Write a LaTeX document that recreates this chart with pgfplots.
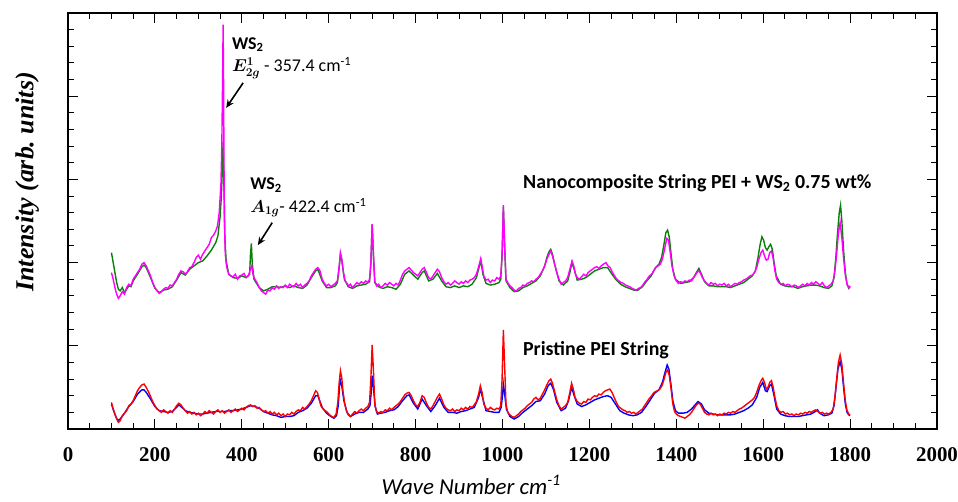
\documentclass[border=0pt]{standalone}
\usepackage{pgfplots}
\pgfplotsset{compat=1.18}
\usetikzlibrary{arrows.meta}
\usepackage{fontspec}
\usepackage{bm}
\setmainfont{Carlito}
\newfontfamily\tnr{Liberation Serif}
\definecolor{cgreen}{RGB}{10,128,10}
\definecolor{cmag}{RGB}{255,0,255}
\definecolor{cblue}{RGB}{0,0,255}
\definecolor{cred}{RGB}{255,0,0}
\begin{document}
\begin{tikzpicture}
\path[use as bounding box] (0,0) rectangle (958bp,502bp);
\begin{axis}[
  at={(68bp,73bp)}, anchor=south west,
  scale only axis, width=869bp, height=416bp,
  xmin=0, xmax=2000, ymin=0, ymax=5,
  xtick={0,200,...,2000}, minor x tick num=3,
  ytick={0,1,...,5}, minor y tick num=4, yticklabels={},
  major tick length=10bp, minor tick length=6bp,
  every tick/.style={black, line width=1bp},
  axis line style={line width=1.3bp},
  /pgf/number format/.cd, 1000 sep={}, assume math mode=true, /pgfplots/.cd,
  xticklabel style={font=\tnr\bfseries\fontsize{21}{21}\selectfont, anchor=center, yshift=-26bp},
  xlabel={\itshape Wave Number cm\textsuperscript{-1}},
  xlabel style={font=\fontsize{23}{24}\selectfont, at={(axis description cs:0.464,-0.134)}, anchor=center},
  ylabel={Intensity (arb.\ units)},
  ylabel style={font=\tnr\bfseries\itshape\fontsize{26}{27}\selectfont, at={(axis description cs:-0.047,0.594)}, anchor=center, rotate=0},
  clip=false,
]
% green (nanocomposite, behind)
\addplot[cgreen, line width=1.4bp] coordinates {
(100,2.12)(104,2.00)(108,1.88)(112,1.76)(116,1.68)(120,1.66)(125,1.70)(130,1.64)(135,1.68)(140,1.72)(145,1.71)(150,1.78)(160,1.86)(170,1.95)(175,1.97)(180,1.94)(190,1.82)(200,1.69)(210,1.64)(220,1.67)(230,1.68)(240,1.71)(250,1.79)(260,1.88)(270,1.85)(280,1.92)(290,1.96)(300,2.00)(310,2.02)(320,2.08)(330,2.15)(340,2.24)(345,2.32)(350,2.55)(353,2.80)(355,3.10)(357,3.45)(359,2.90)(361,2.30)(364,2.02)(370,1.86)(380,1.82)(390,1.81)(400,1.84)(410,1.82)(418,1.86)(420,2.10)(422,2.23)(424,2.00)(428,1.80)(440,1.70)(450,1.66)(460,1.68)(470,1.71)(480,1.71)(490,1.70)(500,1.72)(510,1.70)(520,1.72)(530,1.70)(540,1.69)(550,1.73)(560,1.82)(570,1.90)(575,1.92)(585,1.78)(595,1.70)(605,1.70)(615,1.72)(620,1.76)(624,1.93)(627,2.10)(630,2.03)(636,1.80)(645,1.71)(655,1.69)(665,1.72)(675,1.73)(685,1.74)(694,1.77)(697,1.98)(700,2.46)(703,2.08)(706,1.76)(715,1.71)(725,1.69)(735,1.71)(745,1.70)(755,1.68)(765,1.74)(775,1.86)(785,1.90)(795,1.85)(805,1.80)(815,1.88)(820,1.90)(830,1.78)(840,1.80)(850,1.87)(860,1.78)(870,1.71)(880,1.70)(890,1.72)(900,1.70)(910,1.72)(920,1.71)(930,1.74)(940,1.82)(945,1.92)(950,2.02)(955,1.86)(962,1.75)(972,1.73)(982,1.74)(992,1.76)(996,1.80)(999,2.08)(1002,2.67)(1005,2.18)(1008,1.78)(1017,1.70)(1027,1.65)(1037,1.66)(1047,1.70)(1057,1.72)(1067,1.75)(1077,1.78)(1087,1.84)(1097,1.96)(1102,2.06)(1107,2.13)(1111,2.16)(1115,2.10)(1120,1.98)(1130,1.78)(1140,1.73)(1150,1.78)(1155,1.88)(1160,2.00)(1165,1.92)(1172,1.79)(1182,1.80)(1192,1.82)(1202,1.86)(1212,1.90)(1222,1.92)(1232,1.94)(1242,1.94)(1252,1.86)(1262,1.79)(1272,1.74)(1282,1.71)(1292,1.69)(1302,1.67)(1312,1.67)(1322,1.71)(1332,1.78)(1342,1.84)(1352,1.94)(1360,1.98)(1366,2.06)(1371,2.20)(1376,2.36)(1380,2.39)(1384,2.30)(1388,2.10)(1392,1.92)(1398,1.80)(1410,1.75)(1420,1.76)(1430,1.77)(1440,1.82)(1446,1.88)(1452,1.93)(1458,1.86)(1465,1.77)(1475,1.72)(1485,1.72)(1495,1.71)(1505,1.71)(1515,1.71)(1525,1.70)(1535,1.72)(1545,1.74)(1555,1.76)(1565,1.80)(1575,1.84)(1582,1.90)(1588,2.06)(1593,2.22)(1597,2.31)(1601,2.27)(1605,2.18)(1609,2.15)(1613,2.19)(1617,2.22)(1621,2.16)(1625,2.00)(1630,1.84)(1640,1.74)(1650,1.72)(1660,1.71)(1670,1.71)(1680,1.69)(1690,1.71)(1700,1.72)(1710,1.73)(1720,1.73)(1730,1.72)(1740,1.70)(1750,1.69)(1758,1.72)(1763,1.82)(1767,2.05)(1771,2.35)(1775,2.60)(1778,2.69)(1781,2.50)(1785,2.15)(1789,1.88)(1793,1.74)(1797,1.69)(1800,1.71)
};
% magenta
\addplot[cmag, line width=1.4bp] coordinates {
(100,1.88)(104,1.80)(108,1.70)(112,1.62)(116,1.57)(120,1.60)(125,1.65)(130,1.62)(135,1.70)(140,1.74)(145,1.72)(150,1.80)(155,1.84)(160,1.88)(165,1.92)(170,1.98)(175,2.00)(180,1.96)(185,1.90)(190,1.84)(195,1.76)(200,1.70)(205,1.66)(210,1.63)(215,1.65)(220,1.68)(225,1.70)(230,1.69)(235,1.73)(240,1.72)(245,1.76)(250,1.80)(255,1.86)(260,1.90)(265,1.89)(270,1.86)(275,1.89)(280,1.94)(285,1.95)(290,2.00)(295,2.06)(300,2.09)(305,2.04)(310,2.10)(315,2.14)(320,2.18)(325,2.22)(330,2.30)(335,2.33)(340,2.38)(344,2.44)(348,2.60)(352,2.95)(354,3.40)(356,4.30)(357,4.86)(358,4.20)(359,3.20)(360,2.50)(362,2.10)(365,1.95)(370,1.86)(375,1.84)(380,1.83)(385,1.86)(390,1.80)(395,1.84)(400,1.85)(405,1.87)(410,1.82)(415,1.84)(420,1.92)(423,1.96)(426,1.85)(430,1.80)(435,1.76)(440,1.70)(445,1.66)(450,1.64)(455,1.62)(460,1.67)(465,1.66)(470,1.70)(475,1.68)(480,1.72)(485,1.69)(490,1.71)(495,1.70)(500,1.73)(505,1.70)(510,1.74)(515,1.72)(520,1.71)(525,1.75)(530,1.72)(535,1.74)(540,1.70)(545,1.73)(550,1.75)(555,1.78)(560,1.84)(565,1.88)(570,1.92)(575,1.94)(580,1.90)(585,1.80)(590,1.75)(595,1.72)(600,1.74)(605,1.71)(610,1.73)(615,1.75)(620,1.78)(624,1.95)(627,2.12)(630,2.05)(634,1.88)(638,1.78)(642,1.75)(646,1.72)(650,1.74)(655,1.70)(660,1.73)(665,1.76)(670,1.74)(675,1.77)(680,1.75)(685,1.78)(690,1.76)(694,1.80)(697,2.00)(700,2.46)(703,2.10)(706,1.78)(710,1.72)(715,1.74)(720,1.70)(725,1.72)(730,1.75)(735,1.73)(740,1.76)(745,1.74)(750,1.72)(755,1.75)(760,1.73)(765,1.79)(770,1.86)(775,1.90)(780,1.92)(785,1.94)(790,1.91)(795,1.88)(800,1.86)(805,1.84)(810,1.88)(815,1.92)(820,1.94)(825,1.88)(830,1.82)(835,1.80)(840,1.84)(845,1.88)(850,1.92)(855,1.89)(860,1.82)(865,1.77)(870,1.74)(875,1.76)(880,1.73)(885,1.75)(890,1.78)(895,1.76)(900,1.74)(905,1.77)(910,1.75)(915,1.78)(920,1.76)(925,1.79)(930,1.80)(935,1.82)(940,1.86)(945,1.95)(950,2.05)(953,1.96)(957,1.84)(962,1.79)(967,1.80)(972,1.76)(977,1.79)(982,1.78)(987,1.82)(992,1.80)(996,1.84)(999,2.10)(1002,2.69)(1005,2.20)(1008,1.80)(1012,1.76)(1017,1.72)(1022,1.70)(1027,1.67)(1032,1.66)(1037,1.69)(1042,1.70)(1047,1.73)(1052,1.72)(1057,1.75)(1062,1.76)(1067,1.78)(1072,1.77)(1077,1.80)(1082,1.82)(1087,1.86)(1092,1.90)(1097,1.96)(1102,2.04)(1107,2.10)(1111,2.14)(1115,2.08)(1120,1.98)(1125,1.88)(1130,1.80)(1135,1.74)(1140,1.76)(1145,1.78)(1150,1.82)(1155,1.92)(1160,2.02)(1164,1.96)(1168,1.86)(1172,1.82)(1177,1.80)(1182,1.83)(1187,1.86)(1192,1.84)(1197,1.88)(1202,1.90)(1207,1.92)(1212,1.94)(1217,1.95)(1222,1.93)(1227,1.96)(1232,1.98)(1238,2.00)(1243,1.96)(1248,1.94)(1253,1.88)(1258,1.84)(1263,1.80)(1268,1.78)(1273,1.76)(1278,1.75)(1283,1.73)(1288,1.72)(1293,1.71)(1298,1.69)(1303,1.68)(1308,1.67)(1313,1.69)(1318,1.70)(1323,1.73)(1328,1.77)(1333,1.80)(1338,1.84)(1343,1.86)(1348,1.90)(1353,1.94)(1358,1.96)(1363,1.98)(1368,2.04)(1373,2.16)(1378,2.29)(1382,2.27)(1386,2.12)(1390,1.96)(1395,1.84)(1400,1.78)(1405,1.75)(1410,1.77)(1415,1.76)(1420,1.78)(1425,1.77)(1430,1.79)(1435,1.78)(1440,1.82)(1445,1.86)(1450,1.90)(1455,1.88)(1460,1.82)(1465,1.78)(1470,1.75)(1475,1.73)(1480,1.76)(1485,1.74)(1490,1.75)(1495,1.72)(1500,1.74)(1505,1.73)(1510,1.75)(1515,1.72)(1520,1.74)(1525,1.71)(1530,1.73)(1535,1.75)(1540,1.74)(1545,1.76)(1550,1.77)(1555,1.79)(1560,1.80)(1565,1.82)(1570,1.84)(1575,1.85)(1580,1.88)(1585,1.94)(1590,2.04)(1595,2.12)(1599,2.15)(1603,2.08)(1607,2.03)(1611,2.04)(1615,2.12)(1619,2.14)(1623,2.05)(1627,1.90)(1631,1.80)(1636,1.76)(1641,1.74)(1646,1.75)(1651,1.72)(1656,1.74)(1661,1.73)(1666,1.71)(1671,1.73)(1676,1.72)(1681,1.70)(1686,1.72)(1691,1.74)(1696,1.72)(1701,1.75)(1706,1.73)(1711,1.76)(1716,1.74)(1721,1.77)(1726,1.75)(1731,1.73)(1736,1.76)(1741,1.72)(1746,1.70)(1751,1.72)(1756,1.74)(1761,1.78)(1765,1.90)(1769,2.10)(1773,2.35)(1777,2.48)(1781,2.30)(1785,2.05)(1789,1.85)(1793,1.74)(1797,1.70)(1800,1.72)
};
% blue (pristine, behind)
\addplot[cblue, line width=1.4bp] coordinates {
(100,0.30)(105,0.22)(110,0.15)(115,0.10)(120,0.12)(130,0.19)(140,0.27)(150,0.33)(160,0.42)(170,0.47)(175,0.47)(180,0.44)(190,0.36)(200,0.27)(210,0.22)(220,0.21)(230,0.20)(240,0.21)(250,0.26)(255,0.29)(260,0.27)(270,0.22)(280,0.20)(290,0.19)(300,0.18)(310,0.18)(320,0.19)(330,0.20)(340,0.21)(350,0.21)(360,0.21)(370,0.22)(380,0.22)(390,0.23)(400,0.24)(410,0.26)(420,0.28)(430,0.27)(440,0.25)(450,0.21)(460,0.19)(470,0.17)(480,0.16)(490,0.14)(500,0.15)(510,0.15)(520,0.16)(530,0.20)(540,0.22)(550,0.25)(560,0.31)(570,0.40)(575,0.40)(585,0.26)(595,0.19)(605,0.15)(612,0.13)(618,0.16)(622,0.28)(626,0.60)(630,0.52)(635,0.34)(642,0.20)(650,0.15)(660,0.18)(670,0.20)(680,0.20)(690,0.24)(695,0.28)(698,0.45)(700,0.64)(703,0.50)(707,0.27)(712,0.18)(720,0.19)(730,0.20)(740,0.22)(750,0.23)(760,0.27)(770,0.34)(780,0.40)(785,0.41)(795,0.31)(805,0.24)(815,0.36)(825,0.28)(835,0.21)(845,0.28)(855,0.37)(865,0.26)(875,0.20)(885,0.20)(895,0.19)(905,0.21)(915,0.22)(925,0.24)(935,0.26)(945,0.38)(949,0.48)(955,0.36)(962,0.22)(972,0.21)(982,0.20)(992,0.20)(997,0.26)(1000,0.40)(1002,0.54)(1005,0.42)(1009,0.24)(1017,0.15)(1027,0.12)(1037,0.15)(1047,0.20)(1057,0.24)(1067,0.28)(1077,0.33)(1087,0.34)(1097,0.42)(1105,0.52)(1111,0.55)(1117,0.48)(1125,0.32)(1135,0.22)(1145,0.25)(1152,0.34)(1159,0.50)(1165,0.40)(1172,0.30)(1182,0.27)(1192,0.29)(1202,0.32)(1212,0.35)(1222,0.37)(1232,0.39)(1242,0.40)(1250,0.38)(1260,0.30)(1270,0.22)(1280,0.19)(1290,0.17)(1300,0.16)(1310,0.17)(1320,0.20)(1330,0.27)(1340,0.35)(1350,0.43)(1360,0.47)(1368,0.56)(1374,0.68)(1379,0.77)(1383,0.72)(1388,0.52)(1392,0.34)(1398,0.22)(1405,0.19)(1415,0.19)(1425,0.20)(1435,0.24)(1445,0.30)(1450,0.33)(1458,0.30)(1465,0.23)(1475,0.19)(1485,0.18)(1495,0.17)(1505,0.17)(1515,0.17)(1525,0.17)(1535,0.18)(1545,0.20)(1555,0.22)(1565,0.25)(1575,0.29)(1585,0.38)(1592,0.50)(1599,0.56)(1605,0.46)(1609,0.45)(1615,0.52)(1619,0.54)(1625,0.40)(1631,0.24)(1640,0.18)(1650,0.16)(1660,0.15)(1670,0.15)(1680,0.15)(1690,0.16)(1700,0.17)(1710,0.18)(1720,0.21)(1725,0.23)(1730,0.19)(1740,0.16)(1750,0.17)(1758,0.19)(1763,0.28)(1768,0.52)(1772,0.72)(1777,0.81)(1781,0.72)(1785,0.50)(1789,0.30)(1793,0.20)(1797,0.17)(1800,0.16)
};
% red
\addplot[cred, line width=1.4bp] coordinates {
(100,0.32)(104,0.24)(108,0.18)(112,0.12)(116,0.08)(120,0.10)(125,0.16)(130,0.19)(135,0.22)(140,0.28)(145,0.30)(150,0.34)(155,0.40)(160,0.46)(165,0.50)(170,0.53)(175,0.54)(180,0.50)(185,0.45)(190,0.39)(195,0.33)(200,0.28)(205,0.24)(210,0.22)(215,0.20)(220,0.23)(225,0.21)(230,0.19)(235,0.22)(240,0.20)(245,0.24)(250,0.28)(255,0.31)(260,0.29)(265,0.25)(270,0.22)(275,0.19)(280,0.21)(285,0.18)(290,0.20)(295,0.17)(300,0.19)(305,0.16)(310,0.18)(315,0.21)(320,0.19)(325,0.22)(330,0.20)(335,0.18)(340,0.21)(345,0.23)(350,0.20)(355,0.22)(360,0.19)(365,0.21)(370,0.23)(375,0.20)(380,0.22)(385,0.24)(390,0.21)(395,0.23)(400,0.25)(405,0.23)(410,0.26)(415,0.28)(420,0.29)(425,0.27)(430,0.28)(435,0.25)(440,0.26)(445,0.23)(450,0.21)(455,0.22)(460,0.19)(465,0.21)(470,0.18)(475,0.20)(480,0.17)(485,0.19)(490,0.16)(495,0.18)(500,0.15)(505,0.18)(510,0.17)(515,0.20)(520,0.18)(525,0.21)(530,0.23)(535,0.22)(540,0.26)(545,0.24)(550,0.27)(555,0.30)(560,0.34)(565,0.40)(570,0.46)(574,0.44)(578,0.36)(582,0.28)(587,0.24)(592,0.22)(597,0.20)(602,0.17)(607,0.15)(612,0.14)(617,0.18)(621,0.32)(624,0.55)(627,0.70)(630,0.62)(633,0.45)(637,0.30)(641,0.22)(645,0.17)(650,0.15)(655,0.18)(660,0.21)(665,0.19)(670,0.22)(675,0.24)(680,0.22)(685,0.25)(690,0.27)(694,0.32)(697,0.60)(700,1.01)(703,0.70)(706,0.30)(710,0.21)(715,0.19)(720,0.21)(725,0.20)(730,0.23)(735,0.22)(740,0.25)(745,0.23)(750,0.26)(755,0.28)(760,0.30)(765,0.33)(770,0.37)(775,0.41)(780,0.43)(785,0.44)(790,0.40)(795,0.34)(800,0.29)(805,0.27)(810,0.32)(815,0.40)(820,0.38)(825,0.31)(830,0.26)(835,0.24)(840,0.28)(845,0.33)(850,0.38)(855,0.42)(860,0.36)(865,0.29)(870,0.25)(875,0.23)(880,0.22)(885,0.24)(890,0.21)(895,0.23)(900,0.22)(905,0.25)(910,0.23)(915,0.26)(920,0.24)(925,0.27)(930,0.26)(935,0.29)(940,0.33)(945,0.42)(949,0.52)(953,0.44)(957,0.30)(962,0.25)(967,0.23)(972,0.26)(977,0.24)(982,0.23)(987,0.25)(992,0.24)(996,0.28)(999,0.60)(1002,1.19)(1005,0.75)(1008,0.30)(1012,0.20)(1017,0.17)(1022,0.15)(1027,0.14)(1032,0.16)(1037,0.18)(1042,0.21)(1047,0.23)(1052,0.25)(1057,0.28)(1062,0.30)(1067,0.32)(1072,0.36)(1077,0.38)(1082,0.35)(1087,0.37)(1092,0.42)(1097,0.47)(1102,0.53)(1107,0.58)(1111,0.60)(1115,0.55)(1120,0.45)(1125,0.35)(1130,0.28)(1135,0.24)(1140,0.26)(1145,0.28)(1150,0.32)(1155,0.44)(1159,0.55)(1163,0.48)(1167,0.38)(1172,0.33)(1177,0.31)(1182,0.30)(1187,0.33)(1192,0.32)(1197,0.36)(1202,0.35)(1207,0.38)(1212,0.40)(1217,0.39)(1222,0.42)(1227,0.41)(1232,0.44)(1237,0.46)(1242,0.47)(1247,0.48)(1252,0.44)(1257,0.38)(1262,0.32)(1267,0.27)(1272,0.25)(1277,0.23)(1282,0.22)(1287,0.20)(1292,0.21)(1297,0.19)(1302,0.20)(1307,0.18)(1312,0.20)(1317,0.22)(1322,0.24)(1327,0.28)(1332,0.32)(1337,0.36)(1342,0.39)(1347,0.43)(1352,0.45)(1357,0.46)(1362,0.48)(1367,0.52)(1372,0.60)(1376,0.68)(1380,0.71)(1384,0.64)(1388,0.48)(1392,0.30)(1396,0.21)(1400,0.18)(1405,0.16)(1410,0.15)(1415,0.14)(1420,0.13)(1425,0.15)(1430,0.17)(1435,0.20)(1440,0.24)(1445,0.28)(1450,0.31)(1455,0.30)(1460,0.25)(1465,0.20)(1470,0.18)(1475,0.17)(1480,0.19)(1485,0.17)(1490,0.18)(1495,0.16)(1500,0.18)(1505,0.17)(1510,0.19)(1515,0.18)(1520,0.20)(1525,0.19)(1530,0.21)(1535,0.20)(1540,0.22)(1545,0.24)(1550,0.25)(1555,0.27)(1560,0.29)(1565,0.31)(1570,0.33)(1575,0.35)(1580,0.38)(1585,0.44)(1590,0.52)(1595,0.58)(1599,0.61)(1603,0.56)(1607,0.48)(1611,0.50)(1615,0.56)(1619,0.58)(1623,0.50)(1627,0.38)(1631,0.28)(1636,0.22)(1641,0.20)(1646,0.21)(1651,0.18)(1656,0.19)(1661,0.17)(1666,0.18)(1671,0.16)(1676,0.18)(1681,0.17)(1686,0.19)(1691,0.18)(1696,0.20)(1701,0.19)(1706,0.21)(1711,0.20)(1716,0.22)(1721,0.23)(1726,0.21)(1731,0.19)(1736,0.20)(1741,0.18)(1746,0.19)(1751,0.18)(1756,0.20)(1761,0.24)(1765,0.38)(1769,0.60)(1773,0.80)(1777,0.89)(1781,0.78)(1785,0.55)(1789,0.34)(1793,0.22)(1797,0.18)(1800,0.17)
};
% annotations
\node[anchor=west, font=\bfseries\fontsize{18}{19}\selectfont, inner sep=0pt] at (axis cs:377,4.62) {WS\textsubscript{2}};
\node[anchor=west, font=\fontsize{18}{19}\selectfont, inner sep=0pt] at (axis cs:377,4.34) {$\bm{E^{1}_{2g}}$ - 357.4 cm\textsuperscript{-1}};
\draw[-{Stealth[length=8bp,width=7bp]}, line width=1.6bp] (axis cs:403,4.16) -- (axis cs:364,3.86);
\node[anchor=west, font=\bfseries\fontsize{18}{19}\selectfont, inner sep=0pt] at (axis cs:419,2.93) {WS\textsubscript{2}};
\node[anchor=west, font=\fontsize{18}{19}\selectfont, inner sep=0pt] at (axis cs:419,2.66) {$\bm{A_{1g}}$- 422.4 cm\textsuperscript{-1}};
\draw[-{Stealth[length=8bp,width=7bp]}, line width=1.6bp] (axis cs:470,2.48) -- (axis cs:437,2.21);
\node[anchor=west, font=\bfseries\fontsize{20}{21}\selectfont, inner sep=0pt] at (axis cs:1047,2.96) {Nanocomposite String PEI + WS\textsubscript{2} 0.75 wt\%};
\node[anchor=west, font=\bfseries\fontsize{20}{21}\selectfont, inner sep=0pt] at (axis cs:1047,0.95) {Pristine PEI String};
\end{axis}
\end{tikzpicture}
\end{document}
